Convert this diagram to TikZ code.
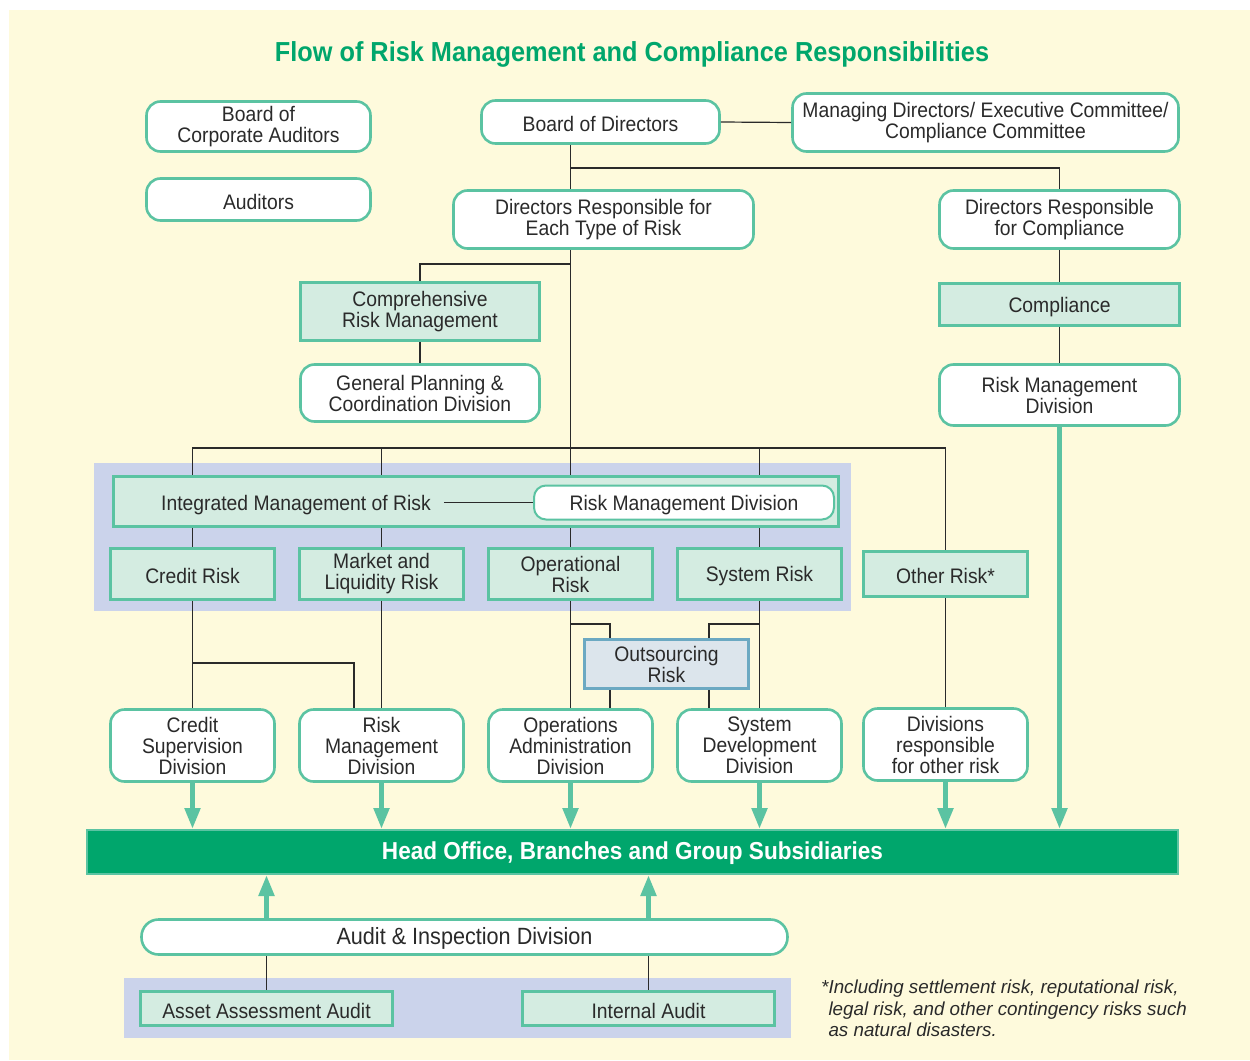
\documentclass[tikz,border=0pt]{standalone}
\usepackage{fontspec}
\setmainfont{Liberation Sans}[FakeStretch=0.92]
\newfontfamily\notefont{Liberation Sans}
\usetikzlibrary{arrows.meta}
\definecolor{cream}{HTML}{FEFADC}
\definecolor{teal0}{HTML}{5BC3A2}
\definecolor{mint}{HTML}{D4ECE1}
\definecolor{lav}{HTML}{CBD3EB}
\definecolor{hogreen}{HTML}{00A66C}
\definecolor{outfill}{HTML}{DCE5EC}
\definecolor{outline}{HTML}{6CA9C2}
\definecolor{ink}{HTML}{2A2A2A}
\begin{document}
\begin{tikzpicture}[x=1pt,y=-1pt,
    every node/.style={font=\fontsize{21}{21}\selectfont, align=center, inner sep=0pt, text=ink},
    wh/.style 2 args={minimum width=#1, minimum height=#2},
    low/.style={execute at begin node={\rule{0pt}{20pt}}},
    rbox/.style={low, draw=teal0, line width=2.6pt, fill=white, rounded corners=14pt},
    sbox/.style={low, draw=teal0, line width=2.6pt, fill=mint},
    link/.style={draw=ink, line width=1.2pt},
    flow/.style={draw=teal0, line width=5pt, -{Triangle[width=15pt,length=21pt]}}]
    \useasboundingbox (0,0) rectangle (1250,1060);
    \fill[cream] (9,10) rectangle (1250,1060);
    \node[font=\fontsize{27.5}{30}\selectfont\bfseries, text=hogreen, anchor=base] (ttl) at (632,61) {Flow of Risk Management and Compliance Responsibilities};

    \node[rbox, wh={224}{50}] (bca) at (258.5,126.5) {Board of\\Corporate Auditors};
    \node[rbox, wh={224}{42}] (aud) at (258.5,199.5) {Auditors};
    \node[rbox, wh={238}{43}] (bod) at (600.5,122) {Board of Directors};
    \node[rbox, wh={386}{58}] (mdc) at (985.5,122.5) {Managing Directors/ Executive Committee/\\Compliance Committee};
    \node[rbox, wh={300}{58}] (dre) at (603.5,219.5) {Directors Responsible for\\Each Type of Risk};
    \node[rbox, wh={240}{58}] (drc) at (1059.5,219.5) {Directors Responsible\\for Compliance};
    \node[sbox, wh={239}{58}] (crm) at (420,311.5) {Comprehensive\\Risk Management};
    \node[rbox, wh={239}{57}] (gpc) at (420,393) {General Planning \&\\Coordination Division};
    \node[sbox, wh={240}{42}] (cmp) at (1059.5,304.5) {Compliance};
    \node[rbox, wh={240}{61}] (rmc) at (1059.5,395) {Risk Management\\Division};

    \fill[lav] (94,463) rectangle (851,611);
    \node[sbox, wh={725}{50}] (imr) at (476,501.5) {};
    \node[low, inner xsep=13pt] (imt) at (296,502.5) {Integrated Management of Risk};
    \node[rbox, line width=2pt, rounded corners=12pt, wh={300}{34}] (rmi) at (684,502.5) {Risk Management Division};
    \node[sbox, wh={164}{51}] (crd) at (192.5,574) {Credit Risk};
    \node[sbox, wh={164}{51}] (mkt) at (381.5,574) {Market and\\Liquidity Risk};
    \node[sbox, wh={164}{51}] (opr) at (570.5,574) {Operational\\Risk};
    \node[sbox, wh={164}{51}] (sys) at (759.5,574) {System Risk};
    \node[sbox, wh={164}{45}] (oth) at (945.5,574) {Other Risk*};
    \node[low, draw=outline, fill=outfill, line width=2.6pt, wh={164}{49}] (out) at (666.5,664) {Outsourcing\\Risk};

    \node[rbox, wh={164}{72}] (csd) at (192.5,745.5) {Credit\\Supervision\\Division};
    \node[rbox, wh={164}{72}] (rmd) at (381.5,745.5) {Risk\\Management\\Division};
    \node[rbox, wh={164}{72}] (oad) at (570.5,745.5) {Operations\\Administration\\Division};
    \node[rbox, wh={164}{72}] (sdd) at (759.5,745.5) {System\\Development\\Division};
    \node[rbox, wh={164}{72}] (dor) at (945.5,744.5) {Divisions\\responsible\\for other risk};
    \node[low, draw=teal0, fill=hogreen, line width=2pt, wh={1091}{44}, text=white, font=\fontsize{24.5}{26}\selectfont\bfseries] (hos) at (632.5,852) {Head Office, Branches and Group Subsidiaries};

    \node[rbox, rounded corners=17pt, wh={646}{35}, font=\fontsize{23.5}{24}\selectfont] (aid) at (464.5,937) {Audit \& Inspection Division};
    \fill[lav] (124,978) rectangle (791,1038);
    \node[sbox, wh={252}{34}] (aaa) at (266.5,1008.5) {Asset Assessment Audit};
    \node[sbox, wh={252}{34}] (ina) at (648.5,1008.5) {Internal Audit};
    \node[anchor=north west, align=left, font=\notefont\itshape\fontsize{18.8}{21.5}\selectfont] (note) at (821,980) {*Including settlement risk, reputational risk,\\\hphantom{*}legal risk, and other contingency risks such\\\hphantom{*}as natural disasters.};

    \coordinate (j1) at (570.5,168);
    \coordinate (j2) at (570.5,264);
    \coordinate (bus) at (570.5,448);
    \coordinate (j3) at (354,663);
    \coordinate (j4) at (610,624);
    \coordinate (j5) at (709,624);

    \draw[link] (bod.east) -- (mdc.west);
    \draw[link] (bod.south -| j1) -- (dre.north -| j1);
    \draw[link] (j1) -| (drc.north);
    \draw[link] (dre.south -| j2) -- (imr.north -| j2);
    \draw[link] (j2) -| (crm.north);
    \draw[link] (crm.south) -- (gpc.north);
    \draw[link] (drc.south) -- (cmp.north);
    \draw[link] (cmp.south) -- (rmc.north);
    \draw[link] (imr.north -| crd) -- (bus -| crd) -- (bus -| oth) -- (oth.north);
    \draw[link] (bus -| mkt) -- (imr.north -| mkt);
    \draw[link] (bus -| sys) -- (imr.north -| sys);
    \draw[link] (imt.east |- rmi.west) -- (rmi.west);
    \draw[link] (imr.south -| crd) -- (crd.north);
    \draw[link] (imr.south -| mkt) -- (mkt.north);
    \draw[link] (imr.south -| opr) -- (opr.north);
    \draw[link] (imr.south -| sys) -- (sys.north);
    \draw[link] (crd.south) -- (csd.north);
    \draw[link] (crd |- j3) -- (j3) -- (rmd.north -| j3);
    \draw[link] (mkt.south) -- (rmd.north);
    \draw[link] (opr.south) -- (oad.north);
    \draw[link] (opr |- j4) -- (j4) -- (out.north -| j4);
    \draw[link] (out.south -| j4) -- (oad.north -| j4);
    \draw[link] (sys.south) -- (sdd.north);
    \draw[link] (sys |- j5) -- (j5) -- (out.north -| j5);
    \draw[link] (out.south -| j5) -- (sdd.north -| j5);
    \draw[link] (oth.south) -- (dor.north);
    \draw[link, line width=1pt] (aid.south -| aaa) -- (aaa.north);
    \draw[link, line width=1pt] (aid.south -| ina) -- (ina.north);

    \draw[flow] (csd.south) -- (hos.north -| csd);
    \draw[flow] (rmd.south) -- (hos.north -| rmd);
    \draw[flow] (oad.south) -- (hos.north -| oad);
    \draw[flow] (sdd.south) -- (hos.north -| sdd);
    \draw[flow] (dor.south) -- (hos.north -| dor);
    \draw[flow] (rmc.south) -- (hos.north -| rmc);
    \draw[flow] (aid.north -| aaa) -- (hos.south -| aaa);
    \draw[flow] (aid.north -| ina) -- (hos.south -| ina);
\end{tikzpicture}
\end{document}
